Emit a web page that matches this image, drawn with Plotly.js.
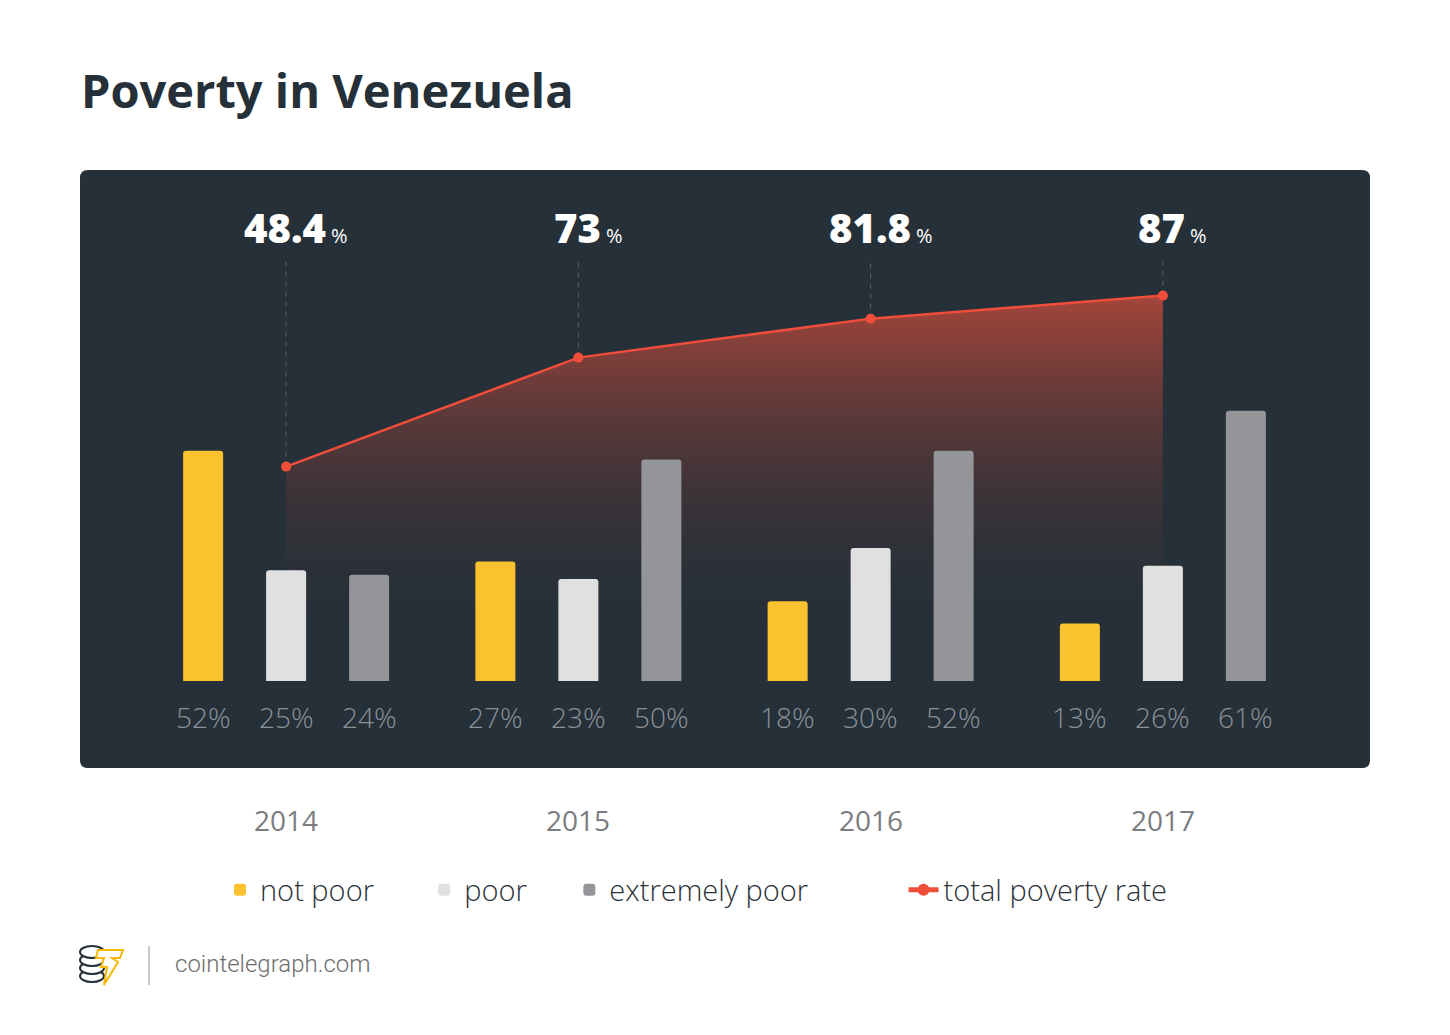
<!DOCTYPE html>
<html>
<head>
<meta charset="utf-8">
<script src="https://cdn.plot.ly/plotly-3.0.1.min.js"></script>
<style>
  html, body { margin: 0; padding: 0; background: #ffffff; }
  #chart { width: 1450px; height: 1035px; }
</style>
</head>
<body>
<div id="chart"></div>
<script>
// ---- data ----
const years = ['2014', '2015', '2016', '2017'];
const notPoor = [52, 27, 18, 13];
const poor = [25, 23, 30, 26];
const extremelyPoor = [24, 50, 52, 61];
const totalPoverty = [48.4, 73, 81.8, 87];
const seriesNames = ['not poor', 'poor', 'extremely poor', 'total poverty rate'];

// ---- styling ----
const C_YELLOW = '#f9c22e';
const C_WHITE = '#e0e0e0';
const C_GRAY = '#939598';
const C_RED = '#f04e3b';
const C_PANEL = '#263038';
const Y_MAX = 115.35;
const LABEL_Y = 102.3;   // level of the big percentage labels
const GUIDE_TOP = 95;    // top of dashed guide lines
const BAR_OFFSET = 0.284; // bar offset within a group (category units)
const NB = n => '\u00A0'.repeat(n); // legend spacing padding

// plot-area geometry in pixels (for decoration placement)
const PL = 140, PW = 1169, PB = 681, PH = 511;
const px = x => (x - PL) / PW;
const py = y => (PB - y) / PH;

function roundRect(x0, y0, x1, y1, r) {
  const rx = r / PW, ry = r / PH;
  const X0 = px(x0), X1 = px(x1), Yt = py(y0), Yb = py(y1);
  return `M${X0 + rx},${Yt} L${X1 - rx},${Yt} Q${X1},${Yt} ${X1},${Yt - ry} ` +
         `L${X1},${Yb + ry} Q${X1},${Yb} ${X1 - rx},${Yb} L${X0 + rx},${Yb} ` +
         `Q${X0},${Yb} ${X0},${Yb + ry} L${X0},${Yt - ry} Q${X0},${Yt} ${X0 + rx},${Yt} Z`;
}
function pixPath(pts) {
  return 'M' + pts.map(p => px(p[0]) + ',' + py(p[1])).join(' L') + ' Z';
}

// ---- traces ----
const fillTrace = {
  type: 'scatter', x: years, y: totalPoverty, mode: 'none',
  fill: 'tozeroy',
  fillgradient: {
    type: 'vertical', start: 0, stop: 87,
    colorscale: [[0, 'rgba(38,48,56,0)'], [0.2, 'rgba(60,50,56,0.05)'], [1, 'rgba(172,70,58,0.95)']]
  },
  showlegend: false, hoverinfo: 'skip', xaxis: 'x', yaxis: 'y'
};

function barTrace(name, vals, color) {
  return {
    type: 'bar', name: name, x: years, y: vals,
    marker: { color: color, cornerradius: 3, line: { width: 0 } },
    xaxis: 'x', yaxis: 'y2', hoverinfo: 'skip'
  };
}

const guideX = [], guideY = [];
years.forEach((yr, i) => {
  guideX.push(yr, yr, null);
  guideY.push(totalPoverty[i], GUIDE_TOP, null);
});
const guideTrace = {
  type: 'scatter', x: guideX, y: guideY, mode: 'lines',
  line: { color: '#52626e', width: 1, dash: '5px,5px' },
  showlegend: false, hoverinfo: 'skip', xaxis: 'x', yaxis: 'y2'
};

const lineTrace = {
  type: 'scatter', name: seriesNames[3], x: years, y: totalPoverty,
  mode: 'lines+markers',
  line: { color: C_RED, width: 2.5 },
  marker: { color: C_RED, size: 10 },
  xaxis: 'x', yaxis: 'y2', hoverinfo: 'skip'
};

const data = [
  fillTrace,
  barTrace(seriesNames[0] + NB(6), notPoor, C_YELLOW),
  barTrace(seriesNames[1] + NB(5), poor, C_WHITE),
  barTrace(seriesNames[2] + NB(12), extremelyPoor, C_GRAY),
  guideTrace,
  lineTrace
];

// ---- annotations ----
const annotations = [];
const groups = [notPoor, poor, extremelyPoor];
years.forEach((yr, i) => {
  groups.forEach((vals, j) => {
    annotations.push({
      x: i + (j - 1) * BAR_OFFSET, y: 0, xref: 'x', yref: 'y',
      yshift: -36, showarrow: false, xanchor: 'center', yanchor: 'middle',
      text: vals[i] + '%',
      font: { family: 'Open Sans', size: 28, weight: 300, color: '#8a9299' }
    });
  });
  annotations.push({
    x: i, y: 0, xref: 'x', yref: 'y', yshift: -139, showarrow: false,
    xanchor: 'center', yanchor: 'middle', text: yr,
    font: { family: 'Open Sans', size: 28, weight: 400, color: '#7b7d80' }
  });
  annotations.push({
    x: i, y: LABEL_Y, xref: 'x', yref: 'y', xshift: 10, showarrow: false,
    xanchor: 'center', yanchor: 'middle',
    text: totalPoverty[i] + '<span style="font-size:20px;font-weight:400"> %</span>',
    font: { family: 'Open Sans', size: 40, weight: 800, color: '#ffffff' }
  });
});
annotations.push({
  x: px(173), y: py(964), xref: 'paper', yref: 'paper', showarrow: false,
  xanchor: 'left', yanchor: 'middle', text: 'cointelegraph.com',
  font: { family: 'Roboto', size: 24, weight: 300, color: '#6e6e6e' }
});

// ---- shapes (decoration) ----
const shapes = [
  { type: 'path', xref: 'paper', yref: 'paper', layer: 'below',
    path: roundRect(80, 170, 1370, 768, 8), fillcolor: C_PANEL, line: { width: 0 } },
  { type: 'line', xref: 'paper', yref: 'paper', x0: px(149), x1: px(149), y0: py(946), y1: py(985),
    line: { color: '#b8b8b8', width: 1.5 } }
];
// coin stack
[970, 962, 954, 946].forEach(t => {
  shapes.push({ type: 'circle', xref: 'paper', yref: 'paper',
    x0: px(80), x1: px(104), y0: py(t + 12), y1: py(t),
    fillcolor: '#ffffff', line: { color: '#263038', width: 2 } });
});
// lightning "T"
shapes.push({ type: 'path', xref: 'paper', yref: 'paper',
  path: pixPath([[98, 950], [123, 950], [120, 958], [112, 958], [118, 962], [104, 985], [107, 967], [101, 967], [104, 958], [96, 958]]),
  fillcolor: '#ffffff', line: { color: '#f9b800', width: 2 } });

const layout = {
  width: 1450, height: 1035,
  margin: { l: PL, r: 1450 - PL - PW, t: PB - PH, b: 1035 - PB, pad: 0 },
  paper_bgcolor: '#ffffff', plot_bgcolor: 'rgba(0,0,0,0)',
  title: {
    text: 'Poverty in Venezuela', xref: 'container', yref: 'container',
    x: 81 / 1450, xanchor: 'left', y: 1 - 92 / 1035, yanchor: 'middle',
    font: { family: 'Open Sans', size: 47, weight: 700, color: '#263038' }
  },
  xaxis: { type: 'category', range: [-0.5, 3.5], showgrid: false, zeroline: false,
           showticklabels: false, showline: false, ticks: '', fixedrange: true },
  yaxis: { range: [0, Y_MAX], visible: false, fixedrange: true },
  yaxis2: { range: [0, Y_MAX], visible: false, overlaying: 'y', anchor: 'x', side: 'right', fixedrange: true },
  barmode: 'group', bargap: 0.148, bargroupgap: 0.518,
  showlegend: true,
  legend: {
    orientation: 'h', x: px(220), xanchor: 'left', y: py(890), yanchor: 'middle',
    font: { family: 'Open Sans', size: 29, weight: 300, color: '#2b3238' },
    bgcolor: 'rgba(0,0,0,0)', traceorder: 'normal', itemsizing: 'constant'
  },
  hovermode: false,
  annotations: annotations,
  shapes: shapes
};

Plotly.newPlot('chart', data, layout, { staticPlot: true, displayModeBar: false });
</script>
</body>
</html>
